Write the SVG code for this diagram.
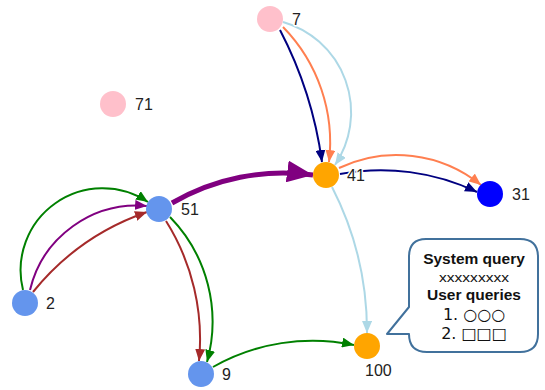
<svg xmlns="http://www.w3.org/2000/svg" width="545" height="390" viewBox="0 0 545 390">
  <style>
    .edge { fill: none; stroke-width: 2; }
    .thick { stroke-width: 5; }
    .node-label { font-family: "Liberation Sans", Arial, sans-serif; font-size: 16px; fill: #222; stroke: #fff; stroke-width: 3; paint-order: stroke; stroke-linejoin: round; }
    .note { font-family: "Liberation Sans", Arial, sans-serif; fill: #111; text-anchor: middle; }
    .note-title { font-size: 15.5px; font-weight: bold; }
    .note-body { font-family: "DejaVu Sans", "Noto Sans CJK JP", sans-serif; font-size: 16px; }
    .note-small { font-size: 12px; }
  </style>
  <defs>
    <marker id="ah-navy" markerUnits="userSpaceOnUse" markerWidth="12" markerHeight="10" refX="12" refY="5" orient="auto"><path d="M0,0 L12,5 L0,10 z" fill="#000080"/></marker>
    <marker id="ah-coral" markerUnits="userSpaceOnUse" markerWidth="12" markerHeight="10" refX="12" refY="5" orient="auto"><path d="M0,0 L12,5 L0,10 z" fill="#FF7F50"/></marker>
    <marker id="ah-lightblue" markerUnits="userSpaceOnUse" markerWidth="12" markerHeight="10" refX="12" refY="5" orient="auto"><path d="M0,0 L12,5 L0,10 z" fill="#ADD8E6"/></marker>
    <marker id="ah-purple" markerUnits="userSpaceOnUse" markerWidth="12" markerHeight="10" refX="12" refY="5" orient="auto"><path d="M0,0 L12,5 L0,10 z" fill="#800080"/></marker>
    <marker id="ah-purple-big" markerUnits="userSpaceOnUse" markerWidth="26" markerHeight="22" refX="26" refY="11" orient="auto"><path d="M0,0 L26,11 L0,22 z" fill="#800080"/></marker>
    <marker id="ah-green" markerUnits="userSpaceOnUse" markerWidth="12" markerHeight="10" refX="12" refY="5" orient="auto"><path d="M0,0 L12,5 L0,10 z" fill="#008000"/></marker>
    <marker id="ah-brown" markerUnits="userSpaceOnUse" markerWidth="12" markerHeight="10" refX="12" refY="5" orient="auto"><path d="M0,0 L12,5 L0,10 z" fill="#A52A2A"/></marker>
  </defs>

  <g id="connectors">
    <path class="edge" stroke="#000080" marker-end="url(#ah-navy)" d="M280,30 A403,403 0 0 1 322,162"/>
    <path class="edge" stroke="#FF7F50" marker-end="url(#ah-coral)" d="M283,27 A165,165 0 0 1 329,162"/>
    <path class="edge" stroke="#ADD8E6" marker-end="url(#ah-lightblue)" d="M283,22 A94,94 0 0 1 335,165"/>
    <path class="edge" stroke="#FF7F50" marker-end="url(#ah-coral)" d="M339,168 A134,134 0 0 1 481,185"/>
    <path class="edge" stroke="#000080" marker-end="url(#ah-navy)" d="M340,174 A223,223 0 0 1 477,192"/>
    <path class="edge thick" stroke="#800080" marker-end="url(#ah-purple-big)" d="M172,203 A221,221 0 0 1 313,175"/>
    <path class="edge" stroke="#ADD8E6" marker-end="url(#ah-lightblue)" d="M332,187 A317,317 0 0 1 367,333"/>
    <path class="edge" stroke="#008000" marker-end="url(#ah-green)" d="M23,290 A82,82 0 0 1 148,202"/>
    <path class="edge" stroke="#800080" marker-end="url(#ah-purple)" d="M30,290 A110,110 0 0 1 147,206"/>
    <path class="edge" stroke="#A52A2A" marker-end="url(#ah-brown)" d="M33,292 A252,252 0 0 1 147,212"/>
    <path class="edge" stroke="#A52A2A" marker-end="url(#ah-brown)" d="M166,221 A222,222 0 0 1 199,361"/>
    <path class="edge" stroke="#008000" marker-end="url(#ah-green)" d="M170,217 A150,150 0 0 1 207,362"/>
    <path class="edge" stroke="#008000" marker-end="url(#ah-green)" d="M213,367 A202,202 0 0 1 354,345"/>
  </g>

  <g id="node-7"><circle cx="270" cy="19" r="13" fill="#FFC0CB"/><text class="node-label" x="292" y="25">7</text></g>
  <g id="node-71"><circle cx="113" cy="104" r="13" fill="#FFC0CB"/><text class="node-label" x="135" y="110">71</text></g>
  <g id="node-41"><circle cx="326" cy="175" r="13" fill="#FFA500"/><text class="node-label" x="347" y="181">41</text></g>
  <g id="node-31"><circle cx="490" cy="194" r="13" fill="#0000FF"/><text class="node-label" x="512" y="200">31</text></g>
  <g id="node-51"><circle cx="159" cy="209" r="13" fill="#6495ED"/><text class="node-label" x="181" y="215">51</text></g>
  <g id="node-2"><circle cx="25" cy="303" r="13" fill="#6495ED"/><text class="node-label" x="46" y="309">2</text></g>
  <g id="node-9"><circle cx="201" cy="374" r="13" fill="#6495ED"/><text class="node-label" x="222" y="380">9</text></g>
  <g id="node-100"><circle cx="367" cy="346" r="13" fill="#FFA500"/><text class="node-label" x="365" y="376">100</text></g>

  <g id="callout">
    <path d="M426,239 H520 Q538,239 538,257 V334 Q538,352 520,352 H427 Q409,352 409,334 L387,334 L409,307 V257 Q409,239 426,239 Z" fill="#fff" stroke="#41719C" stroke-width="2" stroke-linejoin="round"/>
    <text class="note note-title" x="474" y="264">System query</text>
    <text class="note note-small" x="474" y="282" textLength="70" lengthAdjust="spacingAndGlyphs">xxxxxxxxx</text>
    <text class="note note-title" x="474" y="300">User queries</text>
    <text class="note note-body" x="474" y="319.5">1. ○○○</text>
    <text class="note note-body" x="474" y="338.5">2. □□□</text>
  </g>
</svg>
